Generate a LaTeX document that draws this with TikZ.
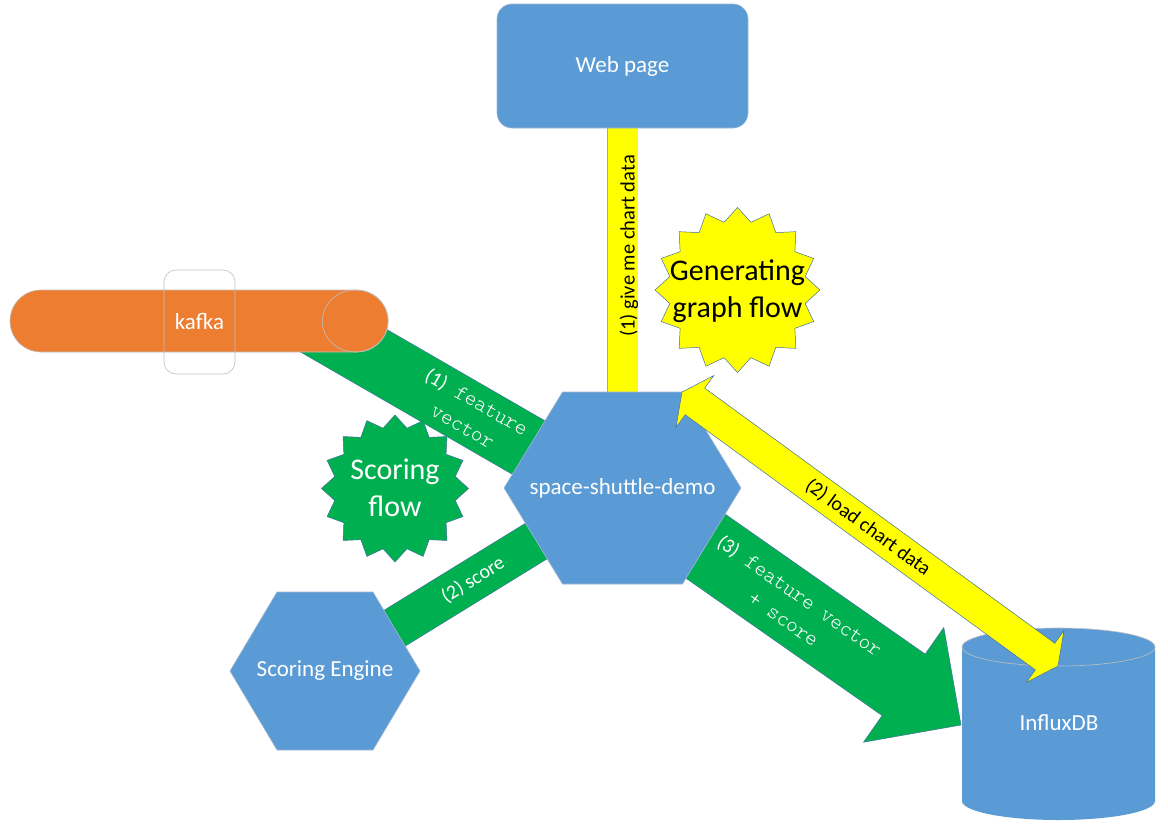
\documentclass[tikz,border=0pt]{standalone}
\usepackage{fontspec}
\setmainfont{Carlito}
\newfontfamily\courfont{lmmonolt10-regular.otf}
\usetikzlibrary{calc,shapes.geometric}
\pgfdeclarelayer{bg}
\pgfsetlayers{bg,main}
\definecolor{boxblue}{HTML}{5B9BD5}
\definecolor{kafkaor}{HTML}{ED7D31}
\definecolor{flowgreen}{HTML}{00B050}
\definecolor{flowyellow}{HTML}{FFFF00}
\definecolor{edgeblue}{HTML}{41719C}
\definecolor{lightedge}{HTML}{BFBFBF}
\definecolor{shapeedge}{HTML}{9FB6D2}

% #1 from, #2 to, #3 shaft half width, #4 head length, #5 head half width, #6 style
\newcommand{\twowayarrow}[6]{%
  \path ($(#1)!#4!(#2)$) coordinate (dA) ($(#2)!#4!(#1)$) coordinate (dB);
  \draw[#6] (#1) -- ($(dA)!#5!90:(#2)$) -- ($(dA)!#3!90:(#2)$)
    -- ($(dB)!#3!-90:(#1)$) -- ($(dB)!#5!-90:(#1)$) -- (#2)
    -- ($(dB)!#5!90:(#1)$) -- ($(dB)!#3!90:(#1)$)
    -- ($(dA)!#3!-90:(#2)$) -- ($(dA)!#5!-90:(#2)$) -- cycle;}
\newcommand{\onewayarrow}[6]{%
  \path ($(#2)!#4!(#1)$) coordinate (dB);
  \draw[#6] ($(#1)!#3!90:(#2)$) -- ($(dB)!#3!-90:(#1)$) -- ($(dB)!#5!-90:(#1)$)
    -- (#2) -- ($(dB)!#5!90:(#1)$) -- ($(dB)!#3!90:(#1)$) -- ($(#1)!#3!-90:(#2)$) -- cycle;}
% #1 centre, #2 half width, #3 half top length, #4 half height, #5 style
\newcommand{\hexagonat}[5]{%
  \draw[#5] ($(#1)+(-#2,0)$) -- ($(#1)+(-#3,#4)$) -- ($(#1)+(#3,#4)$)
    -- ($(#1)+(#2,0)$) -- ($(#1)+(#3,-#4)$) -- ($(#1)+(-#3,-#4)$) -- cycle;}
% 16-point star: #1 cx, #2 cy, #3 outer radius, #4 inner radius, #5 style
\newcommand{\burstat}[5]{%
  \draw[#5] plot[samples at={0,...,31}, variable=\k]
    ({#1+(mod(\k,2)==0 ? #3 : #4)*cos(90+11.25*\k)}, {#2+(mod(\k,2)==0 ? #3 : #4)*sin(90+11.25*\k)}) -- cycle;}

\tikzset{
  shapetext/.style={text=white, font=\fontsize{23}{27}\selectfont, align=center, inner sep=1pt},
  bluebox/.style={fill=boxblue, draw=shapeedge, line width=0.6pt},
  gband/.style={draw=edgeblue, line width=0.6pt, double=flowgreen, double distance=#1},
  ybar/.style={draw=gray!70, line width=0.6pt, double=flowyellow, double distance=#1},
  garrow/.style={fill=flowgreen, draw=edgeblue, line width=0.5pt, line join=miter},
  yarrow/.style={fill=flowyellow, draw=edgeblue, line width=0.5pt, line join=miter},
  bandtext/.style={align=center, inner sep=0pt},
  burst/.style={draw=edgeblue, line width=0.5pt, line join=miter},
  bursttext/.style={align=center, font=\fontsize{30}{37}\selectfont, inner sep=0pt},
}

\begin{document}
\begin{tikzpicture}[x=1pt,y=1pt]
\useasboundingbox (0,0) rectangle (1168,-839);

% centres and free ends
\coordinate (ssdc) at (622.5,-488);
\coordinate (sec) at (325,-671);
\coordinate (k1) at (306,-319);
\coordinate (k2) at (616,-498);
\coordinate (ya) at (682,-392);
\coordinate (yb) at (1058,-666);
\coordinate (gtip) at (961,-725);

% Web page
\node[bluebox, rounded corners=15pt, minimum width=251pt, minimum height=124pt, shapetext] (web) at (622.5,-66) {Web page};

% kafka
\node[fill=kafkaor, draw=lightedge, line width=0.6pt, rounded corners=31pt, minimum width=378pt, minimum height=62pt, inner sep=0pt] (kafka) at (199,-321) {};
\draw[lightedge, line width=0.6pt] ($(kafka.east)+(-33,0)$) ellipse[x radius=33, y radius=31];
\draw[lightedge, line width=0.6pt, rounded corners=12pt] (164,-270) rectangle (235,-374);
\node[shapetext] (kafkatext) at (199.5,-321) {kafka};

% hexagons
\hexagonat{ssdc}{118.5}{60}{96}{bluebox}
\node[shapetext] (ssd) at (ssdc) {space-shuttle-demo};
\hexagonat{sec}{95}{48}{79}{bluebox}
\node[shapetext] (se) at (sec) {Scoring Engine};

% InfluxDB cylinder
\fill[boxblue] (962,-647) -- (962,-801) arc[start angle=180, end angle=360, x radius=96.5, y radius=19]
  -- (1155,-647) arc[start angle=0, end angle=180, x radius=96.5, y radius=19] -- cycle;
\draw[lightedge, line width=0.6pt] (1058.5,-647) ellipse[x radius=96.5, y radius=19];
\node[shapetext] (influx) at (1059,-723) {InfluxDB};

% connectors below the shapes
\begin{pgfonlayer}{bg}
\draw[ybar=30pt] (web.center) -- (ssdc);
\draw[gband=62pt] (k1) -- (k2);
\draw[gband=41pt] (sec) -- (ssdc);
\onewayarrow{ssdc}{gtip}{37.5pt}{70pt}{70pt}{garrow}
\end{pgfonlayer}

% yellow double arrow above
\twowayarrow{ya}{yb}{16.5pt}{16pt}{32pt}{yarrow}

% starbursts
\burstat{737.5}{-290}{82.5}{69}{burst, fill=flowyellow}
\node[bursttext] (gentext) at (737.5,-291) {Generating\\graph flow};
\burstat{395}{-488.5}{73.5}{61.5}{burst, fill=flowgreen}
\node[bursttext, text=white] (scotext) at (395,-488) {Scoring\\flow};

% connector labels
\node[bandtext, rotate=90, font=\fontsize{20.5}{24}\selectfont] (lbl1) at (629,-246) {(1) give me chart data};
\node[bandtext, rotate=-36.1, font=\fontsize{20}{24}\selectfont] (lbl2) at (868,-527.5) {(2) load chart data};
\node[bandtext, rotate=31.6, text=white, font=\fontsize{20}{24}\selectfont] (lbl3) at (473,-580) {(2) score};
\node[bandtext, rotate=-30, text=white, font=\fontsize{22}{28}\selectfont\courfont] (lbl4) at (470,-413.7) {{\rmfamily\fontsize{20}{28}\selectfont(1)} feature\\vector};
\node[bandtext, rotate=-35, text=white, font=\fontsize{22}{28}\selectfont\courfont] (lbl5) at (792,-607) {{\rmfamily\fontsize{20}{28}\selectfont(3)} feature vector\\+ score};
\end{tikzpicture}
\end{document}
